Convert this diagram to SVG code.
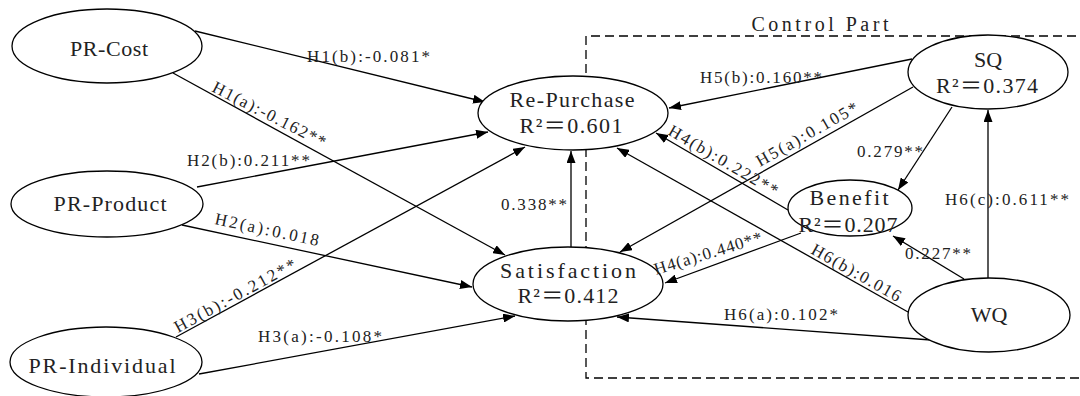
<svg xmlns="http://www.w3.org/2000/svg" width="1080" height="396" viewBox="0 0 1080 396">
<defs>
<marker id="arr" markerUnits="userSpaceOnUse" markerWidth="12" markerHeight="9" refX="12" refY="4.5" orient="auto">
<path d="M0,0 L12,4.5 L0,9 z" fill="#000"/>
</marker>
<style>
.node ellipse{fill:#fff;stroke:#000;stroke-width:1.3}
.nt{font-family:"Liberation Serif","Noto Sans CJK SC",serif;font-size:22px;fill:#222;text-anchor:middle}
.lb{font-family:"Liberation Serif","Noto Sans CJK SC",serif;font-size:17px;fill:#222}
.edges line{stroke:#000;stroke-width:1.3;marker-end:url(#arr)}
.frame{fill:none;stroke:#000;stroke-width:1.3;stroke-dasharray:9 5}
</style>
</defs>
<rect width="1080" height="396" fill="#fff"/>
<g id="control-part">
<path class="frame" d="M1090,36 H586 V378 H1090"/>
<text x="820" y="31" font-family="Liberation Serif, serif" font-size="20" fill="#222" text-anchor="middle" textLength="137" lengthAdjust="spacing">Control Part</text>
</g>
<g id="connectors" class="edges">
<line x1="195" y1="31" x2="485" y2="102"/>
<line x1="173" y1="73" x2="505" y2="255"/>
<line x1="197" y1="187" x2="488" y2="132"/>
<line x1="182" y1="225" x2="472" y2="287"/>
<line x1="176" y1="337" x2="525" y2="147"/>
<line x1="199" y1="374" x2="515" y2="316"/>
<line x1="571" y1="247" x2="571" y2="151"/>
<line x1="912" y1="59" x2="669" y2="108"/>
<line x1="913" y1="87" x2="620" y2="252"/>
<line x1="788" y1="210" x2="656" y2="133"/>
<line x1="801" y1="233" x2="665" y2="283"/>
<line x1="952" y1="107" x2="898" y2="190"/>
<line x1="988" y1="278" x2="988" y2="110"/>
<line x1="964" y1="279" x2="893" y2="236"/>
<line x1="908" y1="312" x2="617" y2="148"/>
<line x1="931" y1="340" x2="617" y2="317"/>
</g>
<g id="pr-cost" class="node"><ellipse cx="107" cy="46" rx="95" ry="37"/><text class="nt" x="109" y="56" textLength="78" lengthAdjust="spacing">PR-Cost</text></g>
<g id="pr-product" class="node"><ellipse cx="107" cy="204" rx="96" ry="33"/><text class="nt" x="110" y="211" textLength="113" lengthAdjust="spacing">PR-Product</text></g>
<g id="pr-individual" class="node"><ellipse cx="106" cy="362" rx="96" ry="35"/><text class="nt" x="102" y="373" textLength="147" lengthAdjust="spacing">PR-Individual</text></g>
<g id="re-purchase" class="node"><ellipse cx="573" cy="113" rx="95" ry="37"/><text class="nt" x="572" y="107" textLength="125" lengthAdjust="spacing">Re-Purchase</text><text class="nt" x="571" y="133" textLength="103" lengthAdjust="spacing">R²＝0.601</text></g>
<g id="satisfaction" class="node"><ellipse cx="568" cy="284" rx="95" ry="37"/><text class="nt" x="568" y="278" textLength="136" lengthAdjust="spacing">Satisfaction</text><text class="nt" x="568" y="303" textLength="101" lengthAdjust="spacing">R²＝0.412</text></g>
<g id="sq" class="node"><ellipse cx="988" cy="72" rx="80" ry="37"/><text class="nt" x="988" y="67">SQ</text><text class="nt" x="987" y="93" textLength="102" lengthAdjust="spacing">R²＝0.374</text></g>
<g id="benefit" class="node"><ellipse cx="850" cy="208" rx="62" ry="28"/><text class="nt" x="849" y="205" textLength="79" lengthAdjust="spacing">Benefit</text><text class="nt" x="848" y="232" textLength="99" lengthAdjust="spacing">R²＝0.207</text></g>
<g id="wq" class="node"><ellipse cx="989" cy="315" rx="81" ry="37"/><text class="nt" x="989" y="322">WQ</text></g>
<g id="labels">
<text class="lb" x="307" y="62" textLength="123" lengthAdjust="spacing">H1(b):-0.081*</text>
<text class="lb" transform="translate(211,91) rotate(27)" textLength="125" lengthAdjust="spacing">H1(a):-0.162**</text>
<text class="lb" x="187" y="166" textLength="123" lengthAdjust="spacing">H2(b):0.211**</text>
<text class="lb" transform="translate(214,224) rotate(12)" textLength="106" lengthAdjust="spacing">H2(a):0.018</text>
<text class="lb" transform="translate(178,333) rotate(-28.6)" textLength="136" lengthAdjust="spacing">H3(b):-0.212**</text>
<text class="lb" x="258" y="342" textLength="124" lengthAdjust="spacing">H3(a):-0.108*</text>
<text class="lb" x="501" y="210" textLength="66" lengthAdjust="spacing">0.338**</text>
<text class="lb" x="700" y="83" textLength="122" lengthAdjust="spacing">H5(b):0.160**</text>
<text class="lb" transform="translate(760,167) rotate(-29.4)" textLength="114" lengthAdjust="spacing">H5(a):0.105*</text>
<text class="lb" transform="translate(667,134) rotate(30.3)" textLength="124" lengthAdjust="spacing">H4(b):0.222**</text>
<text class="lb" transform="translate(656,275) rotate(-17)" textLength="112" lengthAdjust="spacing">H4(a):0.440**</text>
<text class="lb" x="857" y="157" textLength="66" lengthAdjust="spacing">0.279**</text>
<text class="lb" x="945" y="205" textLength="124" lengthAdjust="spacing">H6(c):0.611**</text>
<text class="lb" x="905" y="259" textLength="66" lengthAdjust="spacing">0.227**</text>
<text class="lb" transform="translate(810,253) rotate(29.4)" textLength="100" lengthAdjust="spacing">H6(b):0.016</text>
<text class="lb" x="724" y="320" textLength="114" lengthAdjust="spacing">H6(a):0.102*</text>
</g>
</svg>
